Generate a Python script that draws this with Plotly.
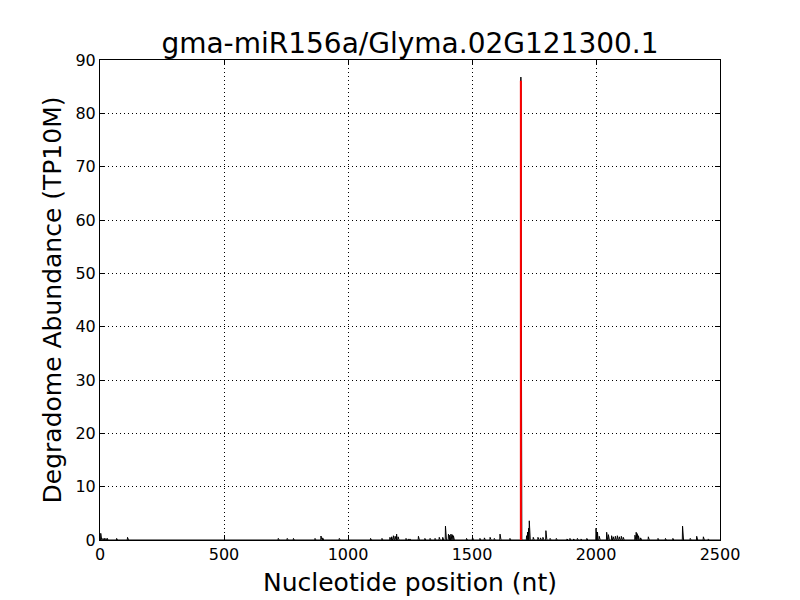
import numpy as np
import plotly.graph_objects as go

title = "gma-miR156a/Glyma.02G121300.1"
x_label = "Nucleotide position (nt)"
y_label = "Degradome Abundance (TP10M)"
x_ticks = [0, 500, 1000, 1500, 2000, 2500]
y_ticks = [0, 10, 20, 30, 40, 50, 60, 70, 80, 90]
transcript_length = 2500

# Nonzero degradome abundance (position nt, TP10M)
spike_pos = [3, 12, 18, 24, 30, 67, 111, 719, 755, 780, 867, 891, 898, 965,
             1091, 1137, 1169, 1176, 1183, 1190, 1196, 1202, 1234, 1244, 1250,
             1284, 1310, 1331, 1351, 1368, 1382, 1393, 1405, 1410, 1415, 1420,
             1425, 1478, 1502, 1532, 1550, 1573, 1590, 1613, 1653, 1697,
             1720, 1724, 1728, 1731, 1734, 1747, 1766, 1776, 1786, 1798, 1815,
             1840, 1883, 1895, 1910, 1925, 1940, 1963, 2000, 2006, 2013, 2043,
             2050, 2063, 2070, 2078, 2086, 2094, 2102, 2110, 2157, 2162, 2166,
             2171, 2180, 2211, 2250, 2280, 2310, 2349, 2380, 2406, 2433, 2453]
spike_val = [1.25, 0.3, 0.3, 0.3, 0.3, 0.3, 0.5, 0.3, 0.3, 0.3, 0.3, 0.75, 0.4, 0.3,
             0.3, 0.3, 0.5, 0.6, 0.8, 0.7, 1.1, 0.6, 0.3, 0.2, 0.2,
             0.7, 0.3, 0.3, 0.3, 0.5, 0.5, 2.6, 1.1, 0.9, 1.1, 1.0,
             0.8, 0.3, 0.5, 0.3, 0.4, 0.5, 0.3, 1.1, 0.3, 86.8,
             0.8, 1.5, 2.2, 3.6, 1.2, 0.5, 0.5, 0.4, 0.5, 1.75, 0.3,
             0.3, 0.2, 0.3, 0.2, 0.3, 0.2, 0.3, 2.2, 1.5, 0.7, 1.45,
             1.0, 0.8, 0.6, 0.7, 0.8, 0.6, 0.7, 0.5, 0.9, 1.45, 1.2,
             0.8, 0.4, 0.6, 0.3, 0.3, 0.3, 2.6, 0.3, 0.7, 0.6, 0.2]

# Target slice site (miRNA cleavage) highlighted in red
cleave_pos = 1697
cleave_val = 86.1

positions = np.arange(1, transcript_length + 1)
abundance = np.zeros(transcript_length)
for p, v in zip(spike_pos, spike_val):
    abundance[p - 1] = v

font_family = "DejaVu Sans"

fig = go.Figure()
fig.add_trace(go.Scatter(x=positions, y=abundance, mode="lines",
                         line=dict(color="black", width=1), showlegend=False))
fig.add_trace(go.Scatter(x=[cleave_pos, cleave_pos], y=[0, cleave_val], mode="lines",
                         line=dict(color="red", width=2), showlegend=False))

axis_common = dict(
    showline=True, linecolor="black", linewidth=1, mirror="ticks",
    ticks="inside", ticklen=5, tickcolor="black", tickwidth=1,
    showgrid=True, gridcolor="black", gridwidth=1, griddash="1px,3px",
    zeroline=False, automargin=False,
    tickfont=dict(family=font_family, size=16, color="black"),
)

# The page body has an 8px default margin, so the figure is sized to fit the window.
fig.update_layout(
    width=792, height=592,
    paper_bgcolor="white", plot_bgcolor="white",
    margin=dict(l=92, r=80, t=52, b=60, autoexpand=False),
    title=dict(text=title, x=(410 - 8) / 792, xanchor="center", y=1 - 35 / 592,
               yanchor="middle", automargin=False,
               font=dict(family=font_family, size=28, color="black")),
    xaxis=dict(range=[0, 2500], tickvals=x_ticks, ticktext=[str(t) for t in x_ticks],
               title=dict(text=x_label, font=dict(family=font_family, size=25, color="black"),
                          standoff=10),
               **axis_common),
    yaxis=dict(range=[0, 90], tickvals=y_ticks, ticktext=[str(t) for t in y_ticks],
               title=dict(text=y_label, font=dict(family=font_family, size=25, color="black"),
                          standoff=6),
               **axis_common),
)

fig.write_html("out.html")
